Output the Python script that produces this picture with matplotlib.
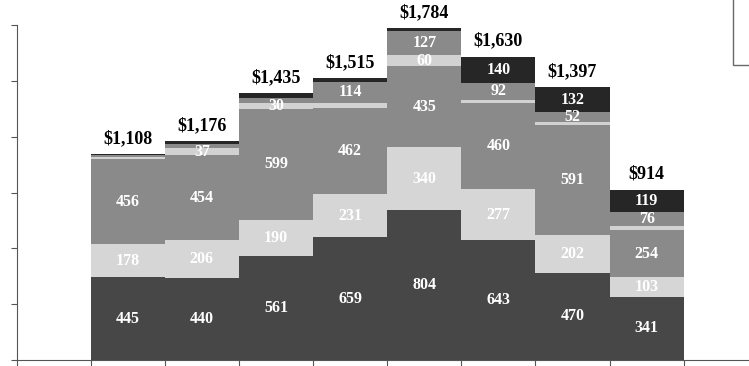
import matplotlib
matplotlib.use("Agg")
import matplotlib.pyplot as plt
import numpy as np

# stacked components per column, bottom to top
base = [445, 440, 561, 659, 804, 643, 470, 341]
second = [178, 206, 190, 231, 340, 277, 202, 103]
core = [456, 454, 599, 462, 435, 460, 591, 254]
strip = [13, 37, 30, 29, 60, 18, 18, 21]
upper = [12, 21, 28, 114, 127, 92, 52, 76]
top = [4, 18, 27, 20, 18, 140, 132, 119]
totals = [1108, 1176, 1435, 1515, 1784, 1630, 1397, 914]

names = ["Series 1", "Series 2", "Series 3", "Series 4", "Series 5", "Series 6"]
colors = ["#474747", "#d6d6d6", "#8a8a8a", "#d2d2d2", "#8a8a8a", "#262626"]
serif = "Liberation Serif"

fig = plt.figure(figsize=(7.49, 3.66), dpi=100)
ax = fig.add_axes([16.5 / 749, 6 / 366, 1 - 16.5 / 749, 335 / 366])

x = np.arange(len(totals)) + 1.5
bottom = np.zeros(len(totals))
for vals, col, name in zip([base, second, core, strip, upper, top], colors, names):
    vals = np.array(vals)
    ax.bar(x, vals, width=1.0, bottom=bottom, color=col, linewidth=0, label=name)
    for xi, v, b0 in zip(x, vals, bottom):
        if v >= 30:
            ax.text(xi, b0 + v / 2, str(v), ha="center", va="center", color="white",
                    fontsize=11.5, fontweight="bold", family=serif)
    bottom += vals

for xi, h, t in zip(x, bottom, totals):
    ax.annotate(f"${t:,}", (xi, h), xytext=(0, 5), textcoords="offset points",
                ha="center", va="bottom", fontsize=13, fontweight="bold", family=serif)

ax.set_xlim(0, 9.88)
ax.set_ylim(0, 1800)
ax.set_xticks(np.arange(0, 10))
ax.set_yticks(np.arange(0, 1801, 300))
ax.tick_params(length=4, color="#555555", labelleft=False, labelbottom=False)
for side in ["top", "right"]:
    ax.spines[side].set_visible(False)
for side in ["left", "bottom"]:
    ax.spines[side].set_color("#555555")

# legend box sits at the right edge, its entries run past the canvas
leg = ax.legend(loc="lower left", bbox_to_anchor=(733 / 749, 1 - 65 / 366),
                bbox_transform=fig.transFigure, borderaxespad=0, borderpad=2.2,
                fancybox=False, fontsize=10)
leg.get_frame().set_edgecolor("#444444")
leg.get_frame().set_linewidth(1.0)

fig.savefig("out.png", dpi=100)
